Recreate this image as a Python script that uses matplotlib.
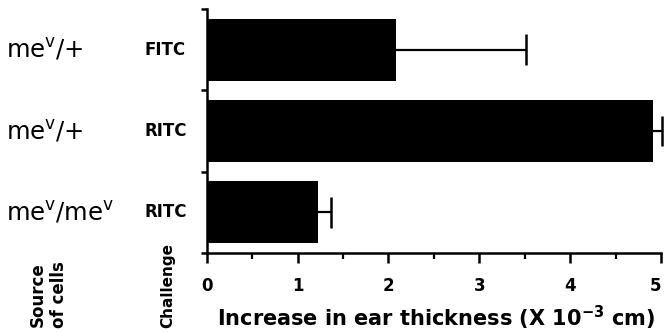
import matplotlib
matplotlib.use("Agg")
import matplotlib.pyplot as plt
import numpy as np

# data (top to bottom)
source = [r"me$^{\mathrm{v}}$/+", r"me$^{\mathrm{v}}$/+", r"me$^{\mathrm{v}}$/me$^{\mathrm{v}}$"]
challenge = ["FITC", "RITC", "RITC"]
increase = [2.08, 4.91, 1.22]
err_upper = [1.43, 0.10, 0.15]

W, H = 664, 333
fig = plt.figure(figsize=(W / 100, H / 100), dpi=100)
ax = fig.add_axes([206.7 / W, 1 - 253 / H, (661 - 206.7) / W, (253 - 9) / H])

ypos = np.arange(len(increase))
bar_h = 0.76
ax.barh(ypos, increase, height=bar_h, color="black", zorder=2)

# one-sided error bars (upper only)
ends = np.array(increase) + np.array(err_upper)
ax.hlines(ypos, increase, ends, color="black", linewidth=1.6, zorder=3, clip_on=False)
ax.vlines(ends, ypos - 0.19, ypos + 0.19, color="black", linewidth=1.8, zorder=3,
          clip_on=False)

ax.set_xlim(0, 5)
ax.set_ylim(2.5, -0.5)
ax.spines["top"].set_visible(False)
ax.spines["right"].set_visible(False)
ax.spines["left"].set_linewidth(1.8)
ax.spines["bottom"].set_linewidth(1.8)

ax.set_yticks([-0.5, 0.5, 1.5, 2.5])
ax.set_yticklabels([])
ax.tick_params(axis="y", length=4, width=1.8, direction="out")

ax.set_xticks([0, 1, 2, 3, 4, 5])
ax.set_xticks(np.arange(0, 5.01, 0.5), minor=True)
ax.tick_params(axis="x", which="major", length=7, width=1.8, pad=10, labelsize=12)
ax.tick_params(axis="x", which="minor", length=4, width=1.6)
for lab in ax.get_xticklabels():
    lab.set_fontweight("bold")
ax.get_xticklabels()[-1].set_horizontalalignment("right")

fig.text(436 / W, 1 - 318 / H, r"Increase in ear thickness (X 10$^{\mathbf{-3}}$ cm)",
         ha="center", va="center", fontsize=15, fontweight="bold")

# row labels on the left
for i in ypos:
    yc = ax.transData.transform((0, i))[1] / H
    fig.text(6 / W, yc, source[i], ha="left", va="center", fontsize=17.5)
    fig.text(145 / W, yc, challenge[i], ha="left", va="center", fontsize=12,
             fontweight="bold")

fig.text(48 / W, 1 - 328 / H, "Source\nof cells", rotation=90, ha="center",
         va="bottom", fontsize=12, fontweight="bold", linespacing=1.25)
fig.text(168 / W, 1 - 328 / H, "Challenge", rotation=90, ha="center",
         va="bottom", fontsize=11, fontweight="bold")

fig.savefig("out.png", dpi=100)
